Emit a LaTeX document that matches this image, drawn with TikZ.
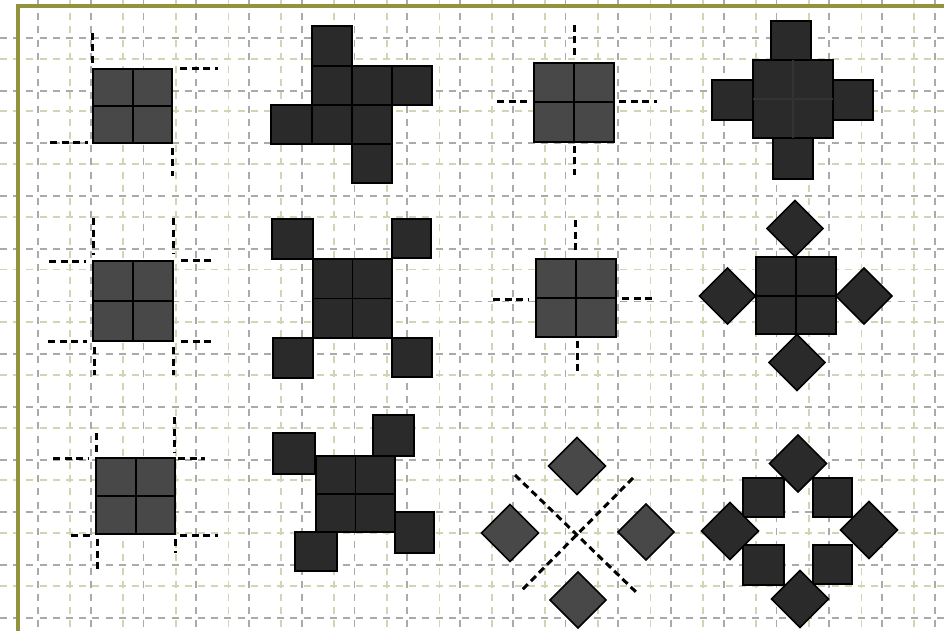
\documentclass[tikz,border=0pt]{standalone}
\definecolor{gridgray}{RGB}{170,170,170}
\definecolor{gridolive}{RGB}{212,212,180}
\definecolor{frameolive}{RGB}{145,148,60}
\definecolor{tileA}{RGB}{72,72,72}
\definecolor{tileB}{RGB}{42,42,42}
\tikzset{
  gridg/.style={draw=gridgray,line width=1.8pt,dash pattern=on 7pt off 6.2pt},
  grido/.style={draw=gridolive,line width=1.8pt,dash pattern=on 7pt off 6.2pt},
  frameline/.style={draw=frameolive,line width=3.6pt},
  tile/.style={fill=tileA,draw=black,line width=1.6pt},
  tiledark/.style={fill=tileB,draw=black,line width=1.6pt},
  inner/.style={draw=black,line width=1.6pt},
  cutline/.style={draw=black,line width=3pt,dash pattern=on 7pt off 4.5pt}
}
\newcommand\dmd[4][tile]{\draw[#1] ({#2},{#3-#4}) -- ({#2+#4},{#3}) -- ({#2},{#3+#4}) -- ({#2-#4},{#3}) -- cycle;}
\begin{document}
\begin{tikzpicture}[x=1pt,y=-1pt]
\useasboundingbox (0,0) rectangle (944,631);
% grid
\foreach \k in {1,...,17} \draw[grido] ({17.5+52.75*\k},0) -- ({17.5+52.75*\k},631);
\foreach \k in {1,...,11} \draw[grido] (0,{6+52.7*\k}) -- (944,{6+52.7*\k});
\foreach \k in {0,...,17} \draw[gridg] ({38+52.75*\k},0) -- ({38+52.75*\k},631);
\foreach \k in {0,...,11} \draw[gridg] (0,{38+52.7*\k}) -- (944,{38+52.7*\k});
% frame
\draw[frameline] (944,6) -- (18,6) -- (18,631);

% ---------- row 1 ----------
% fig 1
\draw[tile] (93,69) rectangle (172,143);
\draw[inner] (133,69) -- (133,143) (93,106) -- (172,106);
\draw[cutline] (92,33) -- (92,63);
\draw[cutline] (180,69) -- (218,69);
\draw[cutline] (50,143) -- (88,143);
\draw[cutline] (172,148) -- (172,176);
% fig 2
\draw[tiledark] (312,26) rectangle (352,66);
\draw[tiledark] (392,66) rectangle (432,105);
\draw[tiledark] (352,144) rectangle (392,183);
\draw[tiledark] (271,105) rectangle (312,144);
\draw[tiledark] (312,66) rectangle (392,144);
\draw[inner] (352,66) -- (352,144) (312,105) -- (392,105);
% fig 3
\draw[tile] (534,63) rectangle (614,142);
\draw[inner] (574,63) -- (574,142) (534,102) -- (614,102);
\draw[cutline] (574,25) -- (574,58);
\draw[cutline] (574,146) -- (574,175);
\draw[cutline] (497,102) -- (530,102);
\draw[cutline] (619,102) -- (657,102);
% fig 4
\draw[tiledark] (771,21) rectangle (811,60);
\draw[tiledark] (773,138) rectangle (813,179);
\draw[tiledark] (712,80) rectangle (753,120);
\draw[tiledark] (833,80) rectangle (873,120);
\draw[tiledark] (753,60) rectangle (833,138);
\draw[inner,draw=black!80,line width=1.2pt] (793,60) -- (793,138) (753,99) -- (833,99);

% ---------- row 2 ----------
% fig 5
\draw[tile] (93,261) rectangle (173,341);
\draw[inner] (133,261) -- (133,341) (93,301) -- (173,301);
\draw[cutline] (93,218) -- (93,255);
\draw[cutline] (49,261) -- (86,261);
\draw[cutline] (173,218) -- (173,253);
\draw[cutline] (181,260) -- (215,260);
\draw[cutline] (48,341) -- (87,341);
\draw[cutline] (94,347) -- (94,375);
\draw[cutline] (181,341) -- (215,341);
\draw[cutline] (173,347) -- (173,375);
% fig 6
\draw[tiledark] (313,259) rectangle (392,338);
\draw[inner] (352.5,259) -- (352.5,338) (313,298.5) -- (392,298.5);
\draw[tiledark] (272,219) rectangle (313,259);
\draw[tiledark] (392,219) rectangle (431,258);
\draw[tiledark] (273,338) rectangle (313,378);
\draw[tiledark] (392,338) rectangle (432,377);
% fig 7
\draw[tile] (536,259) rectangle (616,337);
\draw[inner] (576,259) -- (576,337) (536,298) -- (616,298);
\draw[cutline] (575,220) -- (575,253);
\draw[cutline] (577,341) -- (577,371);
\draw[cutline] (493,299) -- (529,299);
\draw[cutline] (622,298) -- (655,298);
% fig 8
\draw[tiledark] (756,257) rectangle (836,334);
\draw[inner] (796,257) -- (796,334) (756,296) -- (836,296);
\dmd[tiledark]{795}{228.5}{28}
\dmd[tiledark]{727.5}{296}{28}
\dmd[tiledark]{864}{296}{28}
\dmd[tiledark]{797}{362.5}{28}

% ---------- row 3 ----------
% fig 9
\draw[tile] (96,458) rectangle (175,534);
\draw[inner] (136,458) -- (136,534) (96,496) -- (175,496);
\draw[cutline] (96,433) -- (96,453);
\draw[cutline] (53,458) -- (88,458);
\draw[cutline] (174,417) -- (174,452);
\draw[cutline] (178,458) -- (205,458);
\draw[cutline] (71,535) -- (92,535);
\draw[cutline] (97,539) -- (97,570);
\draw[cutline] (180,535) -- (218,535);
\draw[cutline] (175,539) -- (175,553);
% fig 10
\draw[tiledark] (273,433) rectangle (315,474);
\draw[tiledark] (373,415) rectangle (414,456);
\draw[tiledark] (295,532) rectangle (337,571);
\draw[tiledark] (395,512) rectangle (434,553);
\draw[tiledark] (316,456) rectangle (395,532);
\draw[inner] (355.5,456) -- (355.5,532) (316,494) -- (395,494);
% fig 11
\draw[cutline] (515,475) -- (637,593);
\draw[cutline] (633,478) -- (522,590);
\dmd{577}{466}{28.5}
\dmd{510}{533}{28.5}
\dmd{646}{532}{28}
\dmd{578}{600}{28}
% fig 12
\draw[tiledark] (743,478) rectangle (784,517);
\draw[tiledark] (813,478) rectangle (852,517);
\draw[tiledark] (743,545) rectangle (784,585);
\draw[tiledark] (813,545) rectangle (852,584);
\dmd[tiledark]{798}{463.5}{28.5}
\dmd[tiledark]{730}{531}{28.5}
\dmd[tiledark]{869}{530}{28.5}
\dmd[tiledark]{800}{599}{28.5}
\end{tikzpicture}
\end{document}
